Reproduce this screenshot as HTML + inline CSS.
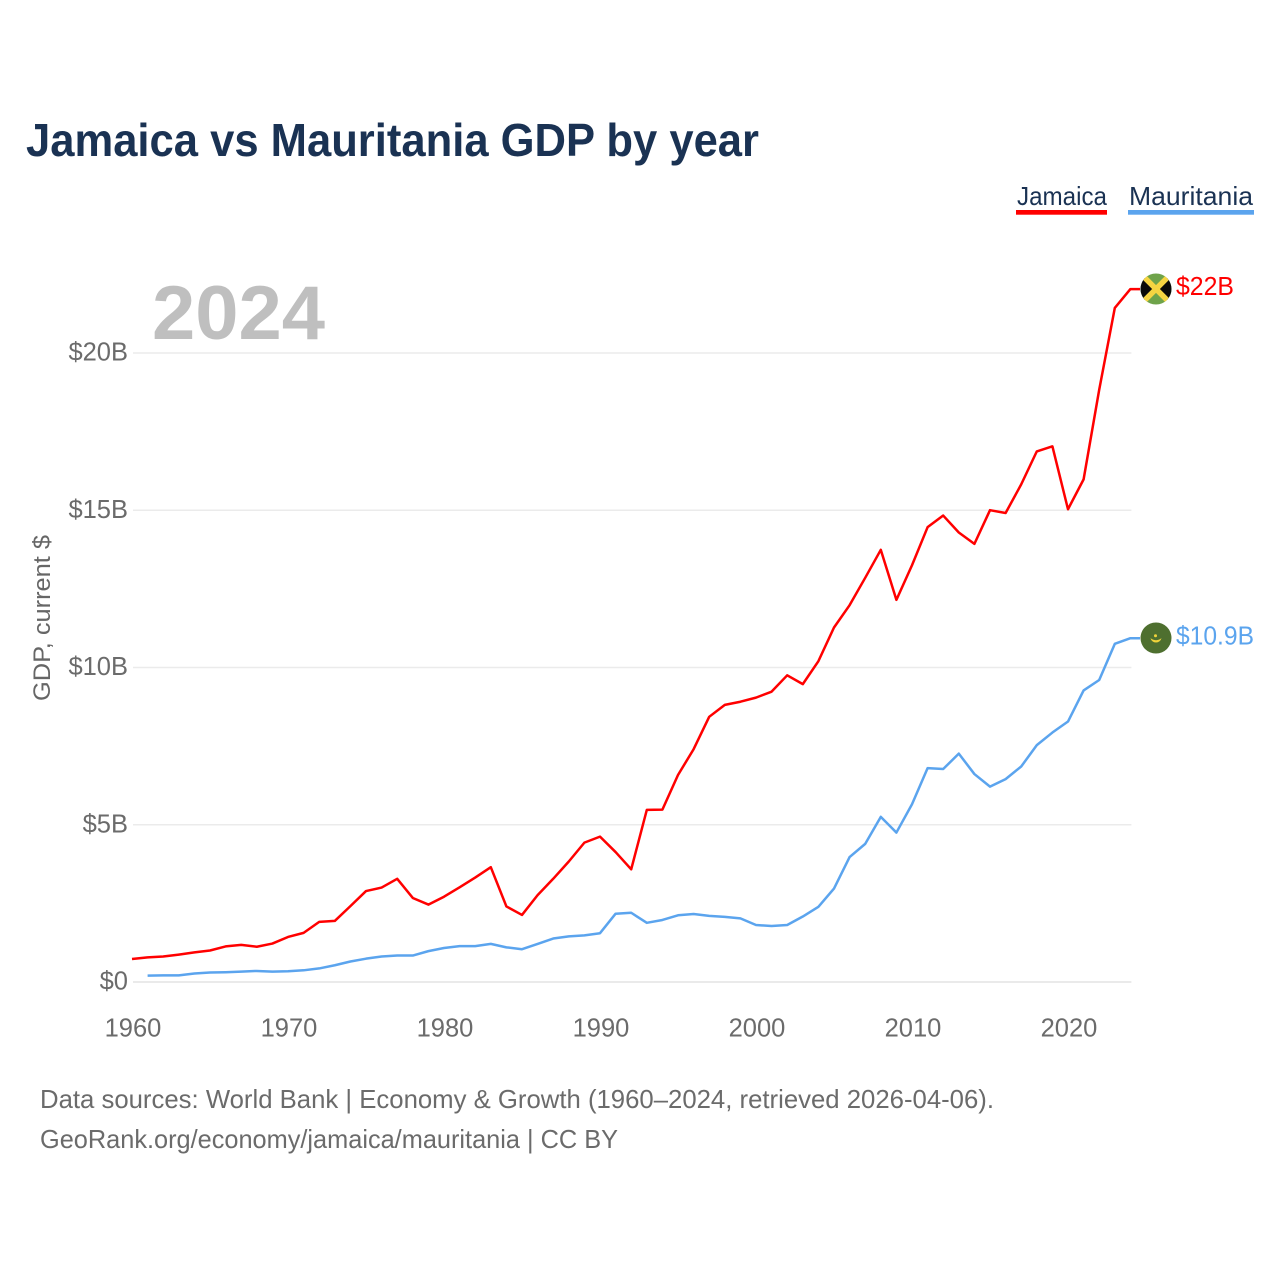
<!DOCTYPE html>
<html lang="en">
<head>
<meta charset="utf-8">
<title>Jamaica vs Mauritania GDP by year</title>
<style>
html,body{margin:0;padding:0;background:#fff;width:1280px;height:1280px;overflow:hidden}
svg{display:block}
text{font-family:"Liberation Sans",sans-serif}
</style>
</head>
<body>
<svg id="chart" xmlns="http://www.w3.org/2000/svg" width="1280" height="1280" viewBox="0 0 1280 1280">
  <defs>
    <clipPath id="flag-clip-j"><circle cx="1156" cy="289" r="15.5"/></clipPath>
    <clipPath id="flag-clip-m"><circle cx="1156" cy="638" r="15.5"/></clipPath>
  </defs>
  <text x="26" y="156" font-size="46" font-weight="700" fill="#1a3253" textLength="733" lengthAdjust="spacingAndGlyphs">Jamaica vs Mauritania GDP by year</text>

  <g>
    <g>
      <text x="1017" y="205" font-size="26" fill="#1a3253" textLength="90" lengthAdjust="spacingAndGlyphs">Jamaica</text>
      <rect x="1016" y="210" width="91" height="4.7" fill="#ff0000"/>
    </g>
    <g>
      <text x="1129" y="205" font-size="26" fill="#1a3253" textLength="124" lengthAdjust="spacingAndGlyphs">Mauritania</text>
      <rect x="1128" y="210" width="126" height="4.7" fill="#5ba4ee"/>
    </g>
  </g>

  <text x="152" y="339" font-size="76" font-weight="700" fill="#bfbfbf" textLength="173" lengthAdjust="spacingAndGlyphs">2024</text>

  <g id="grid"></g>
  <g id="y-ticks"></g>
  <g id="x-ticks"></g>

  <text transform="translate(50,618) rotate(-90)" text-anchor="middle" font-size="24" fill="#666666" textLength="166" lengthAdjust="spacingAndGlyphs">GDP, current $</text>

  <g id="series" transform="translate(-1,-1)"></g>

  <g clip-path="url(#flag-clip-j)">
    <rect x="1140" y="273" width="32" height="32" fill="#6fa34a"/>
    <path d="M1140 273 L1156 289 L1140 305 Z M1172 273 L1156 289 L1172 305 Z" fill="#0a0a0a"/>
    <path d="M1140 273 L1172 305 M1172 273 L1140 305" stroke="#f5d442" stroke-width="5.5"/>
  </g>
  <g clip-path="url(#flag-clip-m)">
    <rect x="1140" y="622" width="32" height="32" fill="#4e6f2f"/>
    <path d="M1150.5 638 A5.6 5.6 0 0 0 1161.5 638 A8 8 0 0 1 1150.5 638 Z" fill="#f0d33a"/>
    <circle cx="1155.5" cy="635.7" r="1.5" fill="#f0d33a"/>
  </g>

  <text x="1176" y="295" font-size="26" fill="#ff0000" textLength="58" lengthAdjust="spacingAndGlyphs">$22B</text>
  <text x="1176" y="644.5" font-size="26" fill="#5ba4ee" textLength="78" lengthAdjust="spacingAndGlyphs">$10.9B</text>

  <text x="40" y="1108" font-size="26" fill="#6b6b6b" textLength="954" lengthAdjust="spacingAndGlyphs">Data sources: World Bank | Economy &amp; Growth (1960–2024, retrieved 2026-04-06).</text>
  <a><text x="40" y="1148" font-size="26" fill="#6b6b6b" textLength="578" lengthAdjust="spacingAndGlyphs">GeoRank.org/economy/jamaica/mauritania | CC BY</text></a>
</svg>
<script>
const startYear = 1960;
const endYear = 2024;
const xTickYears = [1960, 1970, 1980, 1990, 2000, 2010, 2020];
const yTickValues = [0, 5, 10, 15, 20];
const yTickLabels = ["$0", "$5B", "$10B", "$15B", "$20B"];
const jamaicaGdp = [0.70,0.75,0.78,0.84,0.91,0.97,1.10,1.15,1.09,1.19,1.40,1.53,1.88,1.91,2.38,2.86,2.97,3.25,2.64,2.43,2.68,2.98,3.29,3.62,2.37,2.10,2.73,3.25,3.80,4.40,4.59,4.10,3.55,5.44,5.45,6.55,7.37,8.40,8.78,8.88,9.01,9.20,9.72,9.44,10.17,11.24,11.95,12.82,13.71,12.12,13.22,14.43,14.80,14.26,13.90,14.97,14.88,15.79,16.84,17.00,15.00,15.95,18.80,21.40,22.00];
const mauritaniaGdp = [null,0.17,0.18,0.18,0.24,0.27,0.28,0.30,0.32,0.30,0.31,0.34,0.40,0.50,0.62,0.71,0.78,0.81,0.81,0.95,1.05,1.11,1.11,1.18,1.07,1.01,1.18,1.35,1.42,1.45,1.52,2.14,2.17,1.85,1.94,2.09,2.13,2.07,2.04,1.99,1.78,1.75,1.78,2.05,2.36,2.94,3.94,4.36,5.22,4.72,5.62,6.77,6.74,7.23,6.58,6.18,6.42,6.82,7.50,7.90,8.25,9.24,9.57,10.72,10.90];

const NS = "http://www.w3.org/2000/svg";
function xScale(year) { return 133 + (year - 1960) * 15.6; }
function yScale(value) { return 982 - value * 31.45; }

const gridGroup = document.getElementById("grid");
const yTickGroup = document.getElementById("y-ticks");
const xTickGroup = document.getElementById("x-ticks");
const seriesGroup = document.getElementById("series");

yTickValues.forEach(function (v, i) {
  const line = document.createElementNS(NS, "line");
  line.setAttribute("x1", xScale(startYear));
  line.setAttribute("x2", xScale(endYear));
  line.setAttribute("y1", yScale(v));
  line.setAttribute("y2", yScale(v));
  line.setAttribute("stroke", v === 0 ? "#e4e4e4" : "#ebebeb");
  line.setAttribute("stroke-width", "1.5");
  
  
  gridGroup.appendChild(line);

  const t = document.createElementNS(NS, "text");
  t.setAttribute("x", 128);
  t.setAttribute("y", yScale(v) + 7.5);
  t.setAttribute("text-anchor", "end");
  t.setAttribute("font-size", "25.5");
  t.setAttribute("fill", "#6b6b6b");
  t.textContent = yTickLabels[i];
  
  
  yTickGroup.appendChild(t);
});

xTickYears.forEach(function (year) {
  const t = document.createElementNS(NS, "text");
  t.setAttribute("x", xScale(year));
  t.setAttribute("y", 1036.5);
  t.setAttribute("text-anchor", "middle");
  t.setAttribute("font-size", "25.5");
  t.setAttribute("fill", "#6b6b6b");
  t.textContent = String(year);
  
  
  xTickGroup.appendChild(t);
});

function linePath(values) {
  let d = "";
  values.forEach(function (v, i) {
    if (v === null) return;
    d += (d ? " L" : "M") + xScale(startYear + i).toFixed(2) + " " + yScale(v).toFixed(2);
  });
  const last = values[values.length - 1];
  d += " L1141 " + yScale(last).toFixed(2);
  return d;
}

const jamaicaLine = document.createElementNS(NS, "path");
jamaicaLine.setAttribute("d", linePath(jamaicaGdp));
jamaicaLine.setAttribute("fill", "none");
jamaicaLine.setAttribute("stroke", "#ff0000");
jamaicaLine.setAttribute("stroke-width", "2.5");
jamaicaLine.setAttribute("stroke-linejoin", "round");


seriesGroup.appendChild(jamaicaLine);

const mauritaniaLine = document.createElementNS(NS, "path");
mauritaniaLine.setAttribute("d", linePath(mauritaniaGdp));
mauritaniaLine.setAttribute("fill", "none");
mauritaniaLine.setAttribute("stroke", "#5ba4ee");
mauritaniaLine.setAttribute("stroke-width", "2.5");
mauritaniaLine.setAttribute("stroke-linejoin", "round");


seriesGroup.appendChild(mauritaniaLine);
</script>
</body>
</html>
